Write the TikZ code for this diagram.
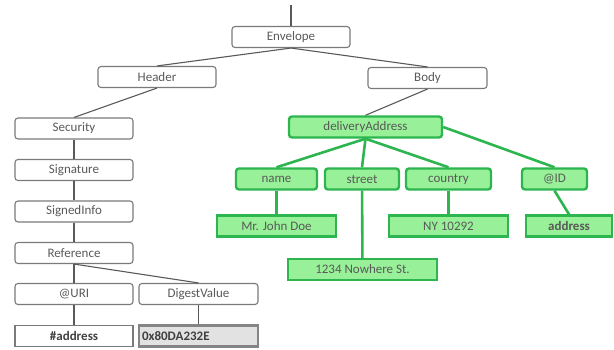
\documentclass[tikz,border=0pt]{standalone}
\usepackage{fontspec}
\setmainfont{Carlito}
\definecolor{boxline}{HTML}{7A7A7A}
\definecolor{boxtext}{HTML}{5A5A5A}
\definecolor{gline}{HTML}{2DB54F}
\definecolor{gfill}{HTML}{98F098}
\definecolor{dfill}{HTML}{E2E2E2}
\definecolor{dline}{HTML}{858585}
\tikzset{
 box/.style={draw=boxline,line width=1.1pt,rounded corners=3pt,fill=white,text=boxtext,minimum height=21pt,inner sep=0pt,font=\fontsize{13}{15}\selectfont},
 leaf/.style={box,rounded corners=0pt,draw=boxline,text=black!75,font=\fontsize{13}{15}\selectfont\bfseries},
 digest/.style={leaf,draw=dline,line width=2.6pt,fill=dfill,align=left,text width=113pt},
 gbox/.style={box,draw=gline,line width=2.4pt,fill=gfill,text=black!65},
 gleaf/.style={gbox,rounded corners=0pt},
 link/.style={draw=black!65,line width=1.1pt},
 glink/.style={draw=gline,line width=2.6pt}
}
\begin{document}
\begin{tikzpicture}[x=1pt,y=-1pt]
 \useasboundingbox (0,0) rectangle (614,350);
 % header side
 \coordinate (top) at (291,5);
 \node[box,minimum width=118pt] (envelope) at (291,37) {Envelope};
 \node[box,minimum width=118pt] (header) at (157,77) {Header};
 \node[box,minimum width=119pt] (body) at (427.5,78) {Body};
 \node[box,minimum width=118pt] (security) at (74,128.5) {Security};
 \node[box,minimum width=118pt] (signature) at (74,170) {Signature};
 \node[box,minimum width=118pt] (signedinfo) at (74,211.5) {SignedInfo};
 \node[box,minimum width=118pt] (reference) at (74,253) {Reference};
 \node[box,minimum width=118pt] (uri) at (74,294) {@URI};
 \node[box,minimum width=119pt] (digestvalue) at (198.5,294) {DigestValue};
 \node[leaf,minimum width=118pt] (uriaddr) at (74,336) {\#address};
 \node[digest,minimum width=119pt] (digest) at (198.5,336) {0x80DA232E};
 % body side
 \node[gbox,minimum width=153pt] (delivery) at (365.5,127) {deliveryAddress};
 \node[gbox,minimum width=81pt] (name) at (276.5,179) {name};
 \node[gbox,minimum width=74pt] (street) at (362,179) {street};
 \node[gbox,minimum width=85pt] (country) at (448.5,179) {country};
 \node[gbox,minimum width=65pt] (id) at (554.5,179) {@ID};
 \node[gleaf,minimum width=119pt] (namev) at (276.5,226) {Mr. John Doe};
 \node[gleaf,minimum width=119pt] (countryv) at (448.5,226) {NY 10292};
 \node[gleaf,minimum width=86pt,font=\fontsize{13}{15}\selectfont\bfseries] (idv) at (569,226) {address};
 \node[gleaf,minimum width=149pt] (streetv) at (362.5,269.5) {1234 Nowhere St.};
 % connectors
 \draw[link] (top) -- (envelope.north);
 \draw[link] (envelope.south) -- (header.north);
 \draw[link] (envelope.south) -- (body.north);
 \draw[link] (header.south) -- (security.north);
 \draw[link] (security) -- (signature);
 \draw[link] (signature) -- (signedinfo);
 \draw[link] (signedinfo) -- (reference);
 \draw[link] (reference) -- (uri);
 \draw[link] (reference.south) -- (digestvalue.north);
 \draw[link] (uri) -- (uriaddr);
 \draw[link] (digestvalue) -- (digest);
 \draw[link] (body.south) -- (delivery.north);
 \draw[glink] (delivery.south) -- (name.north);
 \draw[glink] (delivery.south) -- (street.north);
 \draw[glink] (delivery.south) -- (country.north);
 \draw[glink] (delivery.east) -- (id.north);
 \draw[glink] (name) -- (namev);
 \draw[glink] (street) -- (streetv);
 \draw[glink] (country) -- (countryv);
 \draw[glink] (id.south) -- (idv.north);
\end{tikzpicture}
\end{document}
